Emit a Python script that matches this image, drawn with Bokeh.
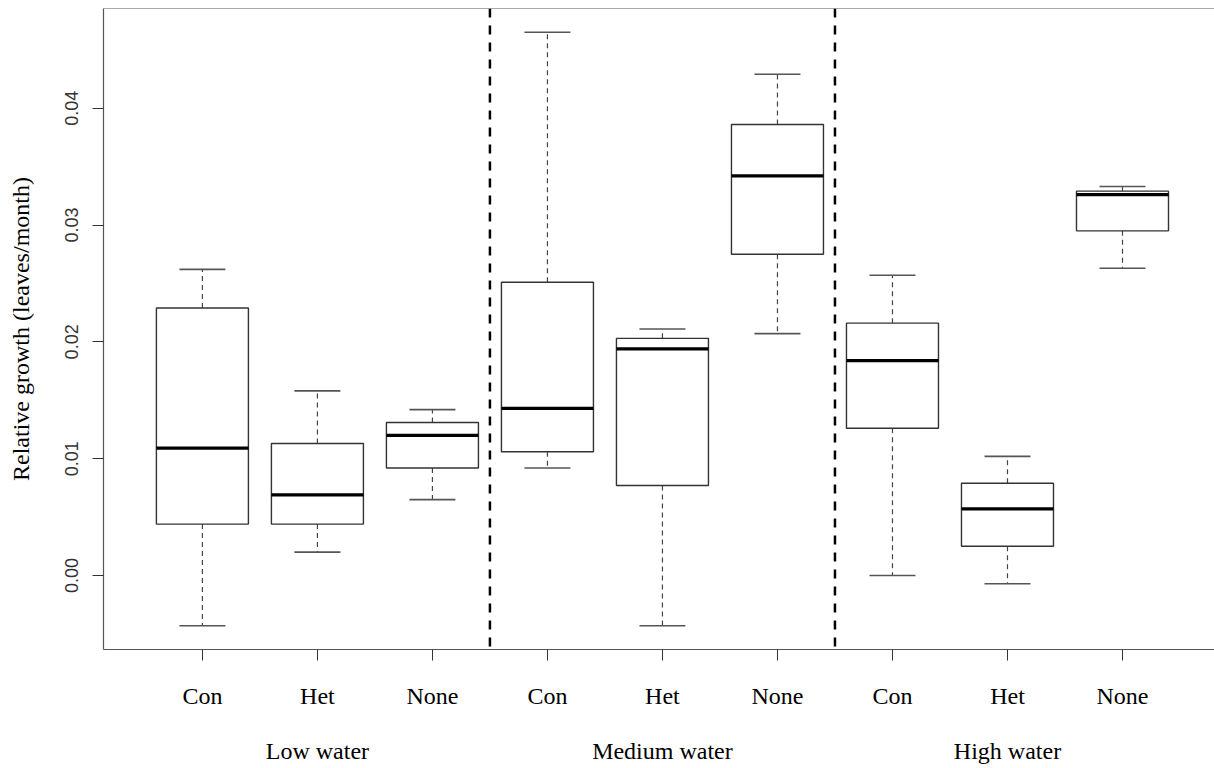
import numpy as np
from bokeh.plotting import figure
from bokeh.models import ColumnDataSource, FixedTicker, LinearAxis, Span, Range1d
from bokeh.embed import file_html
from bokeh.resources import INLINE

# ---- data ----
water_levels = ["Low water", "Medium water", "High water"]
treatments = ["Con", "Het", "None"]
upper_whisker = [0.0262, 0.0158, 0.0142, 0.0465, 0.0211, 0.0429, 0.0257, 0.0102, 0.0333]
q3 = [0.0229, 0.0113, 0.0131, 0.0251, 0.0203, 0.0386, 0.0216, 0.0079, 0.0329]
median = [0.0109, 0.0069, 0.0120, 0.0143, 0.0194, 0.0342, 0.0184, 0.0057, 0.0326]
q1 = [0.0044, 0.0044, 0.0092, 0.0106, 0.0077, 0.0275, 0.0126, 0.0025, 0.0295]
lower_whisker = [-0.0043, 0.0020, 0.0065, 0.0092, -0.0043, 0.0207, 0.0000, -0.0007, 0.0263]
y_ticks = [0.0, 0.01, 0.02, 0.03, 0.04]
y_tick_labels = ["0.00", "0.01", "0.02", "0.03", "0.04"]

n_t = len(treatments)
n = len(water_levels) * n_t
xpos = np.arange(1, n + 1)
box_w = 0.8
cap_w = 0.4

src = ColumnDataSource(dict(
    x=xpos,
    xl=xpos - box_w / 2, xr=xpos + box_w / 2,
    cl=xpos - cap_w / 2, cr=xpos + cap_w / 2,
    up=upper_whisker, q3=q3, med=median, q1=q1, lo=lower_whisker,
))

y_lo = min(lower_whisker)
y_hi = max(upper_whisker)
pad = 0.04 * (y_hi - y_lo)

p = figure(width=1214, height=768,
           x_range=Range1d(0.14, 9.80),
           y_range=Range1d(y_lo - pad, y_hi + pad),
           output_backend="svg", toolbar_location=None,
           min_border_left=103, min_border_right=0,
           min_border_top=8, min_border_bottom=119)
p.background_fill_color = "white"
p.border_fill_color = "white"
p.outline_line_color = None
p.xgrid.visible = False
p.ygrid.visible = False

# whiskers
p.segment(x0="x", y0="q3", x1="x", y1="up", source=src, line_color="#444",
          line_width=1.2, line_dash="5 4")
p.segment(x0="x", y0="q1", x1="x", y1="lo", source=src, line_color="#444",
          line_width=1.2, line_dash="5 4")
# caps
p.segment(x0="cl", y0="up", x1="cr", y1="up", source=src, line_color="#555", line_width=1.6)
p.segment(x0="cl", y0="lo", x1="cr", y1="lo", source=src, line_color="#555", line_width=1.6)
# boxes
p.quad(left="xl", right="xr", top="q3", bottom="q1", source=src,
       fill_color="white", line_color="#333", line_width=1.4)
# medians
p.segment(x0="xl", y0="med", x1="xr", y1="med", source=src, line_color="black", line_width=3.2)

# group separators
for g in range(1, len(water_levels)):
    p.add_layout(Span(location=g * n_t + 0.5, dimension="height",
                      line_color="black", line_width=2.5, line_dash="9 8"))

# top border
p.add_layout(Span(location=y_hi + pad, dimension="width", line_color="#555", line_width=1.2))

# y axis
ya = p.yaxis[0]
ya.ticker = FixedTicker(ticks=y_ticks)
ya.major_label_overrides = {t: l for t, l in zip(y_ticks, y_tick_labels)}
ya.major_label_orientation = "vertical"
ya.major_label_text_font = "Liberation Sans"
ya.major_label_text_font_size = "18px"
ya.major_label_text_color = "#333"
ya.major_tick_out = 11
ya.major_tick_in = 0
ya.minor_tick_line_color = None
ya.major_tick_line_color = "#333"
ya.axis_line_color = "#555"
ya.axis_line_width = 1.2
ya.major_label_standoff = 14
ya.axis_label = "Relative growth (leaves/month)"
ya.axis_label_text_font = "Liberation Serif"
ya.axis_label_text_font_size = "24px"
ya.axis_label_text_font_style = "normal"
ya.axis_label_text_color = "black"
ya.axis_label_standoff = 29

# x axis: treatments
xa = p.xaxis[0]
xa.ticker = FixedTicker(ticks=list(xpos))
xa.major_label_overrides = {int(x): treatments[i % n_t] for i, x in enumerate(xpos)}
xa.major_label_text_font = "Liberation Serif"
xa.major_label_text_font_size = "24px"
xa.major_label_text_color = "black"
xa.major_tick_out = 11
xa.major_tick_in = 0
xa.minor_tick_line_color = None
xa.major_tick_line_color = "#333"
xa.axis_line_color = "#555"
xa.axis_line_width = 1.2
xa.major_label_standoff = 22

# x axis: water levels
group_ticks = [int(xpos[g * n_t + 1]) for g in range(len(water_levels))]
ga = LinearAxis(ticker=FixedTicker(ticks=group_ticks),
                major_label_overrides={t: w for t, w in zip(group_ticks, water_levels)})
ga.major_label_text_font = "Liberation Serif"
ga.major_label_text_font_size = "24px"
ga.major_label_text_color = "black"
ga.major_tick_out = 0
ga.major_tick_in = 0
ga.minor_tick_line_color = None
ga.major_tick_line_color = None
ga.axis_line_color = None
ga.major_label_standoff = 26
p.add_layout(ga, "below")

open("out.html", "w").write(file_html(p, INLINE))
